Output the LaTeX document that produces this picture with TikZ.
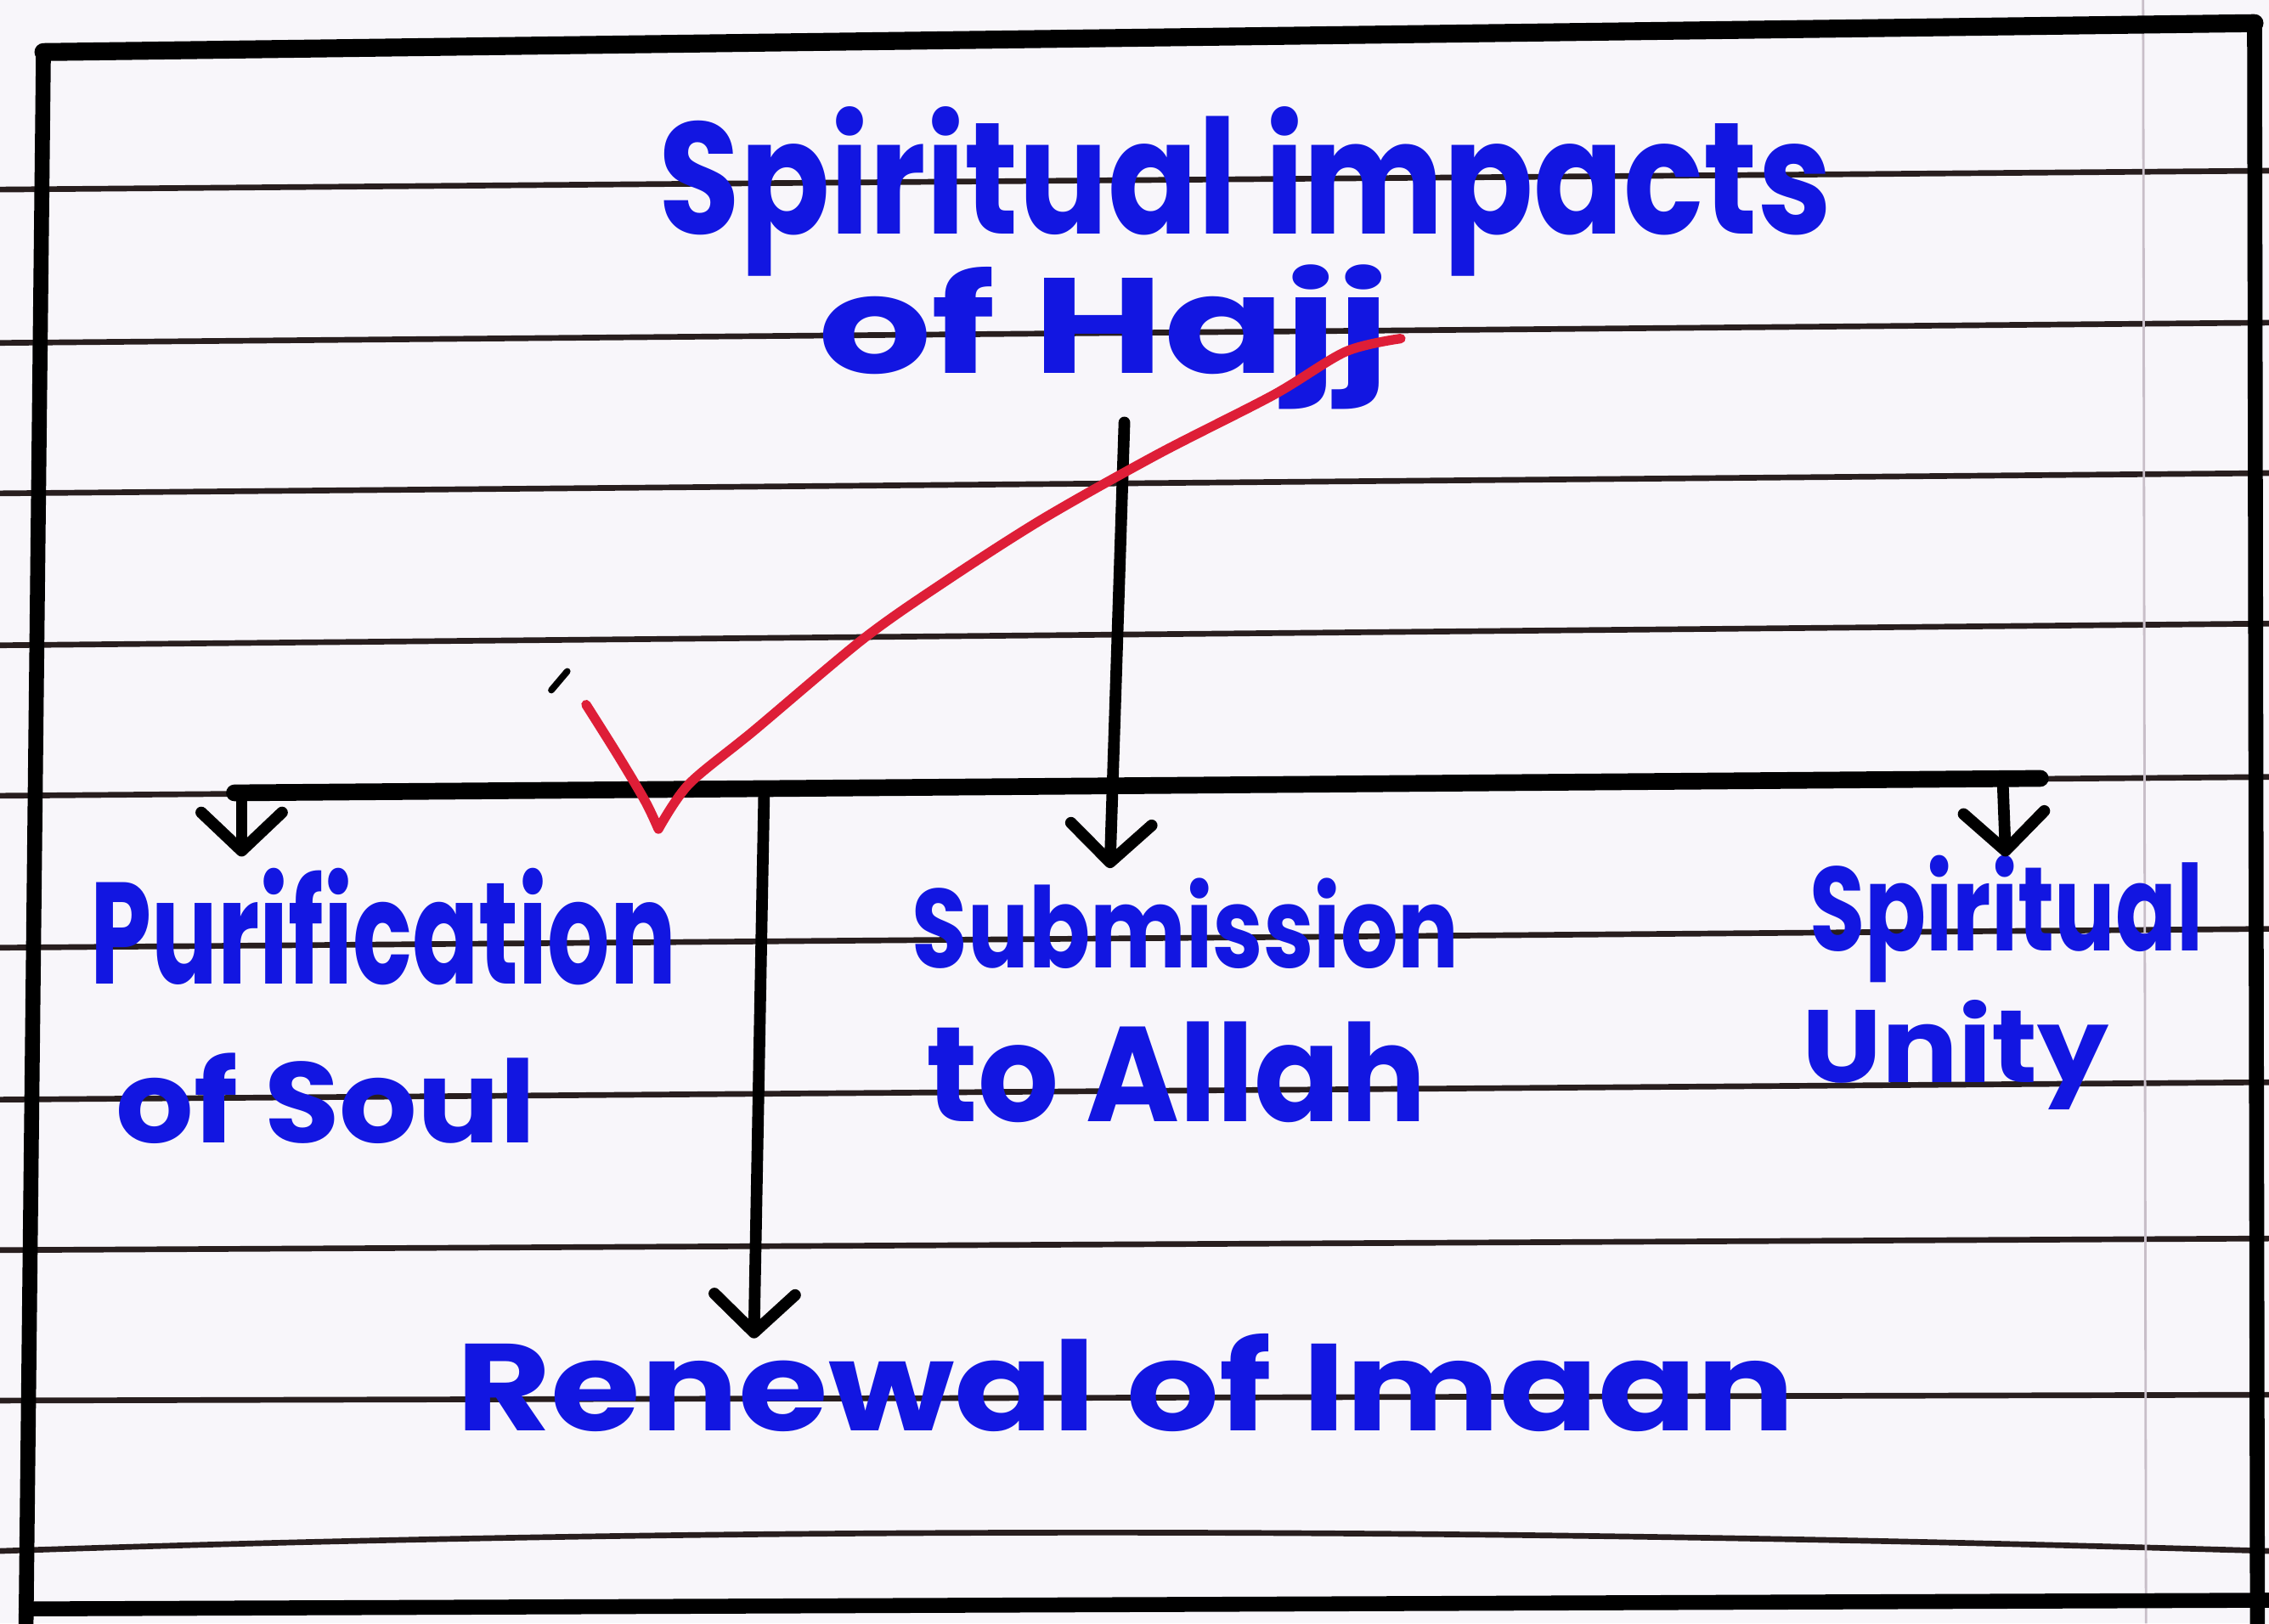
\documentclass[tikz,border=0pt]{standalone}
\usepackage{fontspec}
\setmainfont{Poppins}
\usetikzlibrary{arrows.meta}
\definecolor{ink}{RGB}{18,22,225}
\definecolor{paper}{RGB}{248,246,250}
\definecolor{rulec}{RGB}{40,30,30}
\definecolor{marginc}{RGB}{200,190,200}
\definecolor{redink}{RGB}{222,30,55}
\newdimen\pxu \pxu=0.017034cm
\newcommand\hw[3]{\resizebox{#1\pxu}{#2\pxu}{\bfseries #3}}
\begin{document}
\begin{tikzpicture}[x=0.017034cm,y=-0.017034cm,
  ruled/.style={rulec, line width=1.9pt},
  frame/.style={black, line width=5pt, line cap=round},
  barline/.style={black, line width=5.6pt, line cap=round},
  arr/.style={black, line width=3.9pt, line cap=round, line join=round,
    -{Straight Barb[length=0.45cm,width=0.95cm,line width=3.9pt,round]}},
  hand/.style={anchor=base west, inner sep=0pt, text=ink},
  check/.style={redink, line width=3.2pt, line cap=round, line join=round}]
\useasboundingbox (0,0) rectangle (1568,1122);
\fill[paper] (0,0) rectangle (1568,1122);
% ruled paper lines
\draw[ruled] (0,131) -- (1568,118);
\draw[ruled] (0,237) -- (1568,223);
\draw[ruled] (0,341) -- (1568,327);
\draw[ruled] (0,446) -- (1568,431);
\draw[ruled] (0,550) -- (1568,537);
\draw[ruled] (0,655) -- (1568,642);
\draw[ruled] (0,760) -- (1568,748);
\draw[ruled] (0,864) -- (1568,856);
\draw[ruled] (0,968) -- (1568,964);
\draw[ruled] (0,1072) .. controls (500,1055) and (1000,1055) .. (1568,1072);
\draw[marginc, line width=0.8pt] (1481,0) -- (1483,1122);
% frame
\draw[frame, line width=6pt] (30,36) -- (1558,16);
\draw[frame] (30,36) -- (18,1122);
\draw[frame] (1558,16) -- (1560,1122);
\draw[frame] (18,1112) -- (1568,1106);
% texts
\node[hand] (title) at (455,162) {\hw{810}{88}{Spiritual impacts}};
\node[hand] (title2) at (565,258) {\hw{395}{75}{of Hajj}};
\node[hand] (pur) at (62,680) {\hw{405}{80}{Purification}};
\node[hand] (pur2) at (80,790) {\hw{290}{62}{of Soul}};
\node[hand] (sub) at (630,669) {\hw{378}{62}{Submission}};
\node[hand] (sub2) at (640,775) {\hw{345}{69}{to Allah}};
\node[hand] (spi) at (1250,657) {\hw{272}{66}{Spiritual}};
\node[hand] (spi2) at (1245,748) {\hw{212}{57}{Unity}};
\node[hand] (ren) at (315,989) {\hw{925}{67}{Renewal of Imaan}};
% connectors
\coordinate (top) at (777,292);
\coordinate (subtip) at (767,600);
\coordinate (barL) at (162,548);
\coordinate (barR) at (1410,538);
\coordinate (dropL) at (167,548);
\coordinate (purtip) at (167,592);
\coordinate (dropR) at (1384,540);
\coordinate (spitip) at (1386,592);
\coordinate (dropM) at (528,549);
\coordinate (rentip) at (521,925);
\draw[barline] (barL) -- (barR);
\draw[arr] (top) -- (subtip);
\draw[arr] (dropL) -- (purtip);
\draw[arr] (dropR) -- (spitip);
\draw[arr] (dropM) -- (rentip);
% red check mark
\draw[check] plot[smooth] coordinates {(405,487) (427,522) (446,554) (455,573)}
  -- plot[smooth] coordinates {(455,573) (476,542) (521,505) (596,442) (650,404) (720,359) (800,314) (880,273) (930,243) (968,234)};
% small pen mark
\draw[black, line width=2.2pt, line cap=round] (381,477) -- (392,464);
\end{tikzpicture}
\end{document}
